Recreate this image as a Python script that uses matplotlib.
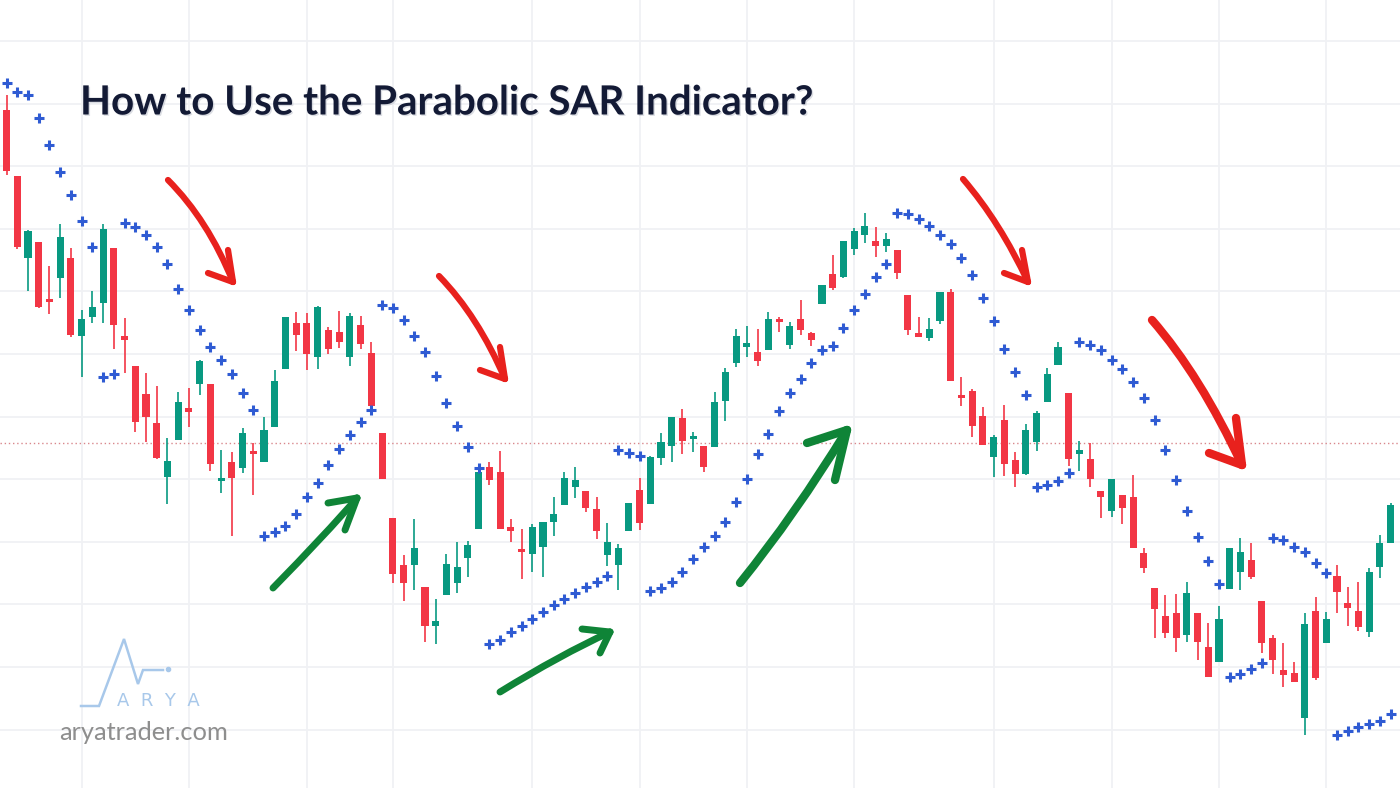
import matplotlib.pyplot as plt
import matplotlib.patheffects as pe
import numpy as np
from matplotlib.path import Path
from matplotlib.patches import PathPatch

# candle data (price units)
opens = [678, 612, 530, 546, 488, 510, 530, 452, 471, 485, 540, 452, 422, 394, 365, 311, 348, 380, 404, 404,
         307, 326, 320, 336, 326, 361, 419, 465, 465, 431, 458, 456, 431, 463, 435, 355, 270, 223, 223, 201,
         162, 193, 205, 230, 259, 321, 316, 261, 238, 234, 241, 266, 283, 301, 297, 279, 233, 223, 257, 298,
         284, 330, 342, 370, 349, 342, 341, 387, 425, 441, 436, 438, 469, 443, 469, 455, 484, 514, 511, 539,
         553, 547, 542, 538, 493, 455, 450, 467, 496, 392, 397, 372, 331, 368, 328, 314, 346, 386, 423, 395,
         334, 329, 297, 277, 293, 291, 235, 200, 172, 175, 153, 175, 141, 126, 199, 216, 228, 187, 150, 118,
         115, 70, 177, 145, 212, 185, 177, 156, 221, 245]
highs = [693, 612, 558, 546, 522, 564, 540, 478, 497, 564, 540, 470, 422, 415, 402, 350, 396, 400, 428, 404,
         338, 336, 360, 345, 371, 418, 471, 476, 475, 482, 461, 477, 475, 472, 446, 355, 270, 233, 269, 201,
         189, 234, 246, 247, 320, 326, 337, 269, 259, 264, 266, 291, 316, 321, 297, 291, 265, 244, 285, 310,
         332, 355, 371, 379, 356, 342, 396, 420, 459, 462, 459, 476, 471, 466, 488, 456, 503, 533, 547, 560,
         575, 561, 555, 538, 493, 471, 470, 496, 499, 411, 399, 381, 353, 383, 336, 364, 377, 420, 446, 395,
         347, 345, 297, 309, 293, 313, 240, 200, 193, 194, 206, 175, 165, 182, 240, 250, 245, 187, 153, 145,
         126, 175, 191, 176, 223, 201, 206, 220, 253, 285]
lows = [613, 539, 497, 480, 474, 490, 451, 411, 465, 465, 439, 415, 356, 346, 329, 284, 348, 361, 393, 317,
        295, 252, 315, 293, 326, 361, 419, 437, 418, 419, 434, 440, 422, 439, 382, 309, 205, 187, 198, 146,
        144, 193, 195, 211, 259, 303, 259, 246, 209, 216, 211, 252, 283, 290, 276, 249, 222, 198, 257, 258,
        284, 323, 326, 334, 336, 316, 341, 367, 421, 431, 422, 438, 456, 439, 453, 442, 484, 498, 510, 533,
        545, 531, 536, 509, 453, 451, 447, 464, 407, 382, 351, 343, 311, 312, 301, 313, 337, 386, 423, 322,
        317, 301, 270, 271, 264, 240, 215, 150, 150, 136, 146, 128, 111, 126, 199, 198, 209, 135, 114, 101,
        106, 53, 108, 145, 175, 162, 157, 151, 210, 245]
closes = [617, 541, 557, 481, 486, 551, 453, 469, 481, 559, 463, 448, 366, 371, 330, 327, 386, 376, 427, 324,
          309, 310, 355, 334, 358, 407, 471, 453, 434, 481, 439, 446, 472, 444, 382, 309, 214, 205, 240, 162,
          167, 224, 221, 243, 316, 308, 259, 257, 236, 261, 266, 274, 310, 308, 280, 257, 246, 240, 285, 265,
          331, 346, 371, 347, 351, 321, 386, 416, 452, 445, 427, 469, 466, 462, 458, 448, 503, 500, 547, 557,
          562, 542, 549, 515, 458, 451, 459, 496, 407, 390, 362, 343, 351, 324, 314, 358, 375, 414, 441, 329,
          338, 309, 291, 309, 280, 240, 220, 179, 155, 150, 195, 146, 111, 169, 240, 236, 211, 145, 128, 113,
          106, 164, 110, 169, 196, 180, 161, 216, 245, 283]
sar = [705, 696, 693, 670, 643, 616, 593, 567, 541, 411, 414, 565, 561, 553, 541, 524, 499, 478, 458, 441,
       428, 414, 395, 378, 252, 256, 262, 274, 291, 305, 323, 339, 353, 366, 378, 483, 480, 468, 452, 436,
       412, 385, 362, 341, 320, 144, 148, 156, 162, 169, 176, 183, 189, 195, 201, 206, 212, 338, 335, 332,
       197, 200, 206, 216, 229, 241, 252, 266, 286, 309, 334, 354, 377, 395, 409, 425, 438, 442, 460, 478,
       494, 511, 524, 575, 574, 569, 562, 553, 544, 530, 513, 490, 467, 439, 416, 393, 301, 303, 307, 315,
       446, 443, 438, 428, 419, 406, 390, 368, 338, 308, 277, 251, 227, 204, 111, 114, 119, 125, 250, 248,
       241, 236, 225, 215, 53, 57, 61, 64, 67, 74]

grid_idx = [7, 17, 28, 36, 49, 59, 69, 79, 92, 103, 113, 123]
ref_level = 345
title = 'How to Use the Parabolic SAR Indicator?'
site = 'aryatrader.com'
brand = 'ARYA'

UP = '#089981'
DOWN = '#f23645'
SAR_COL = '#2f5bd3'

o = np.array(opens, dtype=float)
h = np.array(highs, dtype=float)
l = np.array(lows, dtype=float)
c = np.array(closes, dtype=float)
idx = np.arange(len(o))
up = c >= o
cols = np.where(up, UP, DOWN)

fig = plt.figure(figsize=(14, 7.88), dpi=100)
ax = fig.add_axes([0, 0, 1, 1])
ax.set_xlim(-0.606, 129.87)
ax.set_ylim(0, 788)
for s in ax.spines.values():
    s.set_visible(False)
ax.set_xticks(grid_idx)
ax.set_yticks(np.arange(58.5, 788, 62.6))
ax.tick_params(length=0, labelbottom=False, labelleft=False)
ax.grid(True, color='#f0f1f4', lw=1.3)
ax.set_axisbelow(True)

ax.axhline(ref_level, color='#d9878c', lw=1.0, ls=(0, (1, 2)), zorder=1)

# wicks and bodies
ax.vlines(idx, l, h, colors=cols, lw=1.2, zorder=2)
bottom = np.minimum(o, c)
height = np.maximum(np.abs(c - o), 3)
ax.bar(idx, height, bottom=bottom, width=0.66, color=cols, lw=0, zorder=3)

# parabolic sar
ax.plot(idx, sar, ls='none', marker='+', ms=6.5, mew=2.2, color=SAR_COL, zorder=4)

# overlay in pixel space for drawn arrows, title and logo
ov = fig.add_axes([0, 0, 1, 1])
ov.set_xlim(0, 1400)
ov.set_ylim(788, 0)
ov.axis('off')
ov.patch.set_alpha(0)


def hand_arrow(start, ctrl, end, arms, color, lw):
    path = Path([start, ctrl, end], [Path.MOVETO, Path.CURVE3, Path.CURVE3])
    ov.add_patch(PathPatch(path, fc='none', ec=color, lw=lw, capstyle='round', joinstyle='round'))
    for a in arms:
        ov.plot([a[0], end[0]], [a[1], end[1]], color=color, lw=lw, solid_capstyle='round')


RED = '#e8211d'
GREEN = '#0f8437'
hand_arrow((168, 180), (208, 220), (233, 282), [(228, 250), (208, 273)], RED, 4.5)
hand_arrow((439, 276), (478, 316), (505, 379), [(500, 347), (480, 370)], RED, 4.5)
hand_arrow((963, 179), (1000, 222), (1028, 282), [(1022, 250), (1004, 273)], RED, 4.5)
hand_arrow((1152, 320), (1200, 375), (1242, 465), [(1236, 418), (1209, 453)], RED, 6)
hand_arrow((273, 588), (325, 535), (357, 498), [(328, 503), (345, 530)], GREEN, 5)
hand_arrow((500, 692), (560, 655), (610, 632), [(582, 629), (600, 653)], GREEN, 5)
hand_arrow((740, 583), (795, 515), (847, 430), [(807, 443), (835, 480)], GREEN, 6)

ttl = ov.text(80, 103, title, fontsize=29, fontweight='bold', family='Lato', color='#131a35',
              ha='left', va='center')
ttl.set_path_effects([pe.withSimplePatchShadow(offset=(1, -1), shadow_rgbFace='#9aa0b0', alpha=0.35)])

# logo
LOGO = '#a8c8ea'
ov.plot([81, 99, 124, 138, 143, 163], [706, 706, 639, 684, 670, 670], color=LOGO, lw=1.8,
        solid_joinstyle='miter')
ov.plot([168], [669], 'o', ms=3, color=LOGO)
ov.text(158, 701, '  '.join(brand), fontsize=13, color=LOGO, ha='center', va='center',
        family='DejaVu Sans')
ov.text(59, 733, site, fontsize=18.3, color='#8e8e8e', ha='left', va='center', family='Lato')

fig.savefig('out.png', dpi=100, facecolor='white')
